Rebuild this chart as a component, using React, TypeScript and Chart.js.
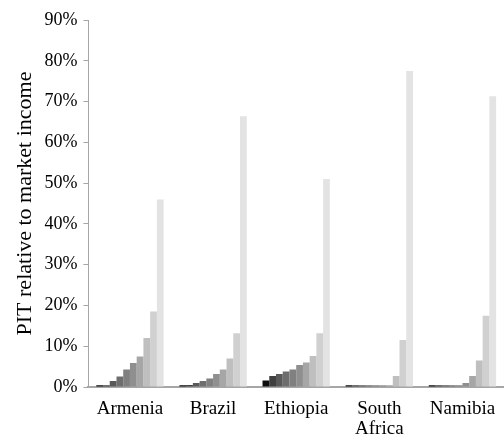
import React, { useEffect, useRef } from "react";
import { Chart, registerables } from "chart.js";

Chart.register(...registerables);

const countries: (string | string[])[] = ["Armenia", "Brazil", "Ethiopia", ["South", "Africa"], "Namibia"];
const decileNames = ["D1", "D2", "D3", "D4", "D5", "D6", "D7", "D8", "D9", "D10"];
// values per country, deciles 1..10 (% PIT relative to market income)
const armenia = [0.4, 0.4, 1.5, 2.6, 4.3, 5.9, 7.5, 12.0, 18.5, 46.0];
const brazil = [0.4, 0.5, 1.0, 1.5, 2.1, 3.2, 4.3, 7.0, 13.2, 66.4];
const ethiopia = [1.6, 2.7, 3.2, 3.8, 4.3, 5.4, 6.0, 7.6, 13.2, 51.0];
const southAfrica = [0.4, 0.4, 0.4, 0.4, 0.4, 0.4, 0.4, 2.7, 11.5, 77.5];
const namibia = [0.4, 0.4, 0.4, 0.4, 0.4, 1.0, 2.7, 6.5, 17.5, 71.3];
const decileColors = ["#0d0d0d", "#404040", "#595959", "#6e6e6e", "#808080", "#8f8f8f", "#a6a6a6", "#bfbfbf", "#d0d0d0", "#e3e3e3"];
const yTicks = [0, 10, 20, 30, 40, 50, 60, 70, 80, 90];

export default function App() {
  const ref = useRef<HTMLCanvasElement>(null);
  useEffect(() => {
    if (!ref.current) return;
    const byCountry = [armenia, brazil, ethiopia, southAfrica, namibia];
    const fam = "'Liberation Serif', 'DejaVu Serif', serif";
    const font = { family: fam, size: 18 };
    const chart = new Chart(ref.current, {
      type: "bar",
      data: {
        labels: countries,
        datasets: decileNames.map((d, i) => ({
          label: d,
          data: byCountry.map((c) => c[i]),
          backgroundColor: decileColors[i],
          borderWidth: 0,
          categoryPercentage: 0.81,
          barPercentage: 1.0,
        })),
      },
      options: {
        animation: false,
        responsive: false,
        maintainAspectRatio: false,
        layout: { padding: { top: 20, right: 0, left: 12, bottom: 0 } },
        plugins: { legend: { display: false }, tooltip: { enabled: false } },
        scales: {
          x: {
            grid: { display: false },
            border: { display: true, color: "#a6a6a6", width: 2 },
            ticks: { color: "#000", font: { family: fam, size: 19, lineHeight: 1.05 }, padding: 4, maxRotation: 0, autoSkip: false },
            afterFit: (axis: any) => {
              axis.height = 56;
            },
          },
          y: {
            min: 0,
            max: 90,
            afterBuildTicks: (axis: any) => {
              axis.ticks = yTicks.map((v) => ({ value: v }));
            },
            grid: { display: true, drawOnChartArea: false, drawTicks: true, tickLength: 5, color: "#a6a6a6", lineWidth: 1 },
            border: { display: true, color: "#a6a6a6", width: 1 },
            ticks: { color: "#000", font, padding: 6, callback: (v: any) => v + "%" },
            title: { display: true, text: "PIT relative to market income", color: "#000", font: { family: fam, size: 22 }, padding: { top: 0, bottom: 0 } },
          },
        },
      },
    });
    return () => chart.destroy();
  }, []);
  return (
    <div style={{ position: "fixed", left: 0, top: 0, width: 504, height: 443, background: "#fff" }}>
      <canvas ref={ref} width={504} height={443} style={{ width: 504, height: 443 }} />
    </div>
  );
}
